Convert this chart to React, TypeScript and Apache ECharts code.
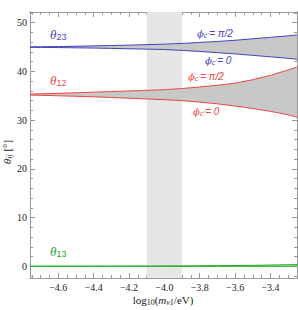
import React, { useEffect, useRef } from "react";
import * as echarts from "echarts";

const xs = [-4.76, -4.7, -4.6, -4.5, -4.4, -4.3, -4.2, -4.1, -4.0, -3.9, -3.8, -3.7, -3.6, -3.5, -3.4, -3.3, -3.25];
const t23Upper = [45.05, 45.07, 45.1, 45.17, 45.25, 45.32, 45.4, 45.5, 45.6, 45.75, 45.95, 46.15, 46.4, 46.7, 47.0, 47.3, 47.5];
const t23Lower = [44.95, 44.93, 44.9, 44.85, 44.8, 44.73, 44.65, 44.58, 44.5, 44.32, 44.1, 43.85, 43.6, 43.3, 43.0, 42.7, 42.5];
const t12Upper = [35.35, 35.4, 35.5, 35.62, 35.75, 35.87, 36.0, 36.12, 36.25, 36.5, 36.8, 37.15, 37.6, 38.3, 39.2, 40.3, 40.9];
const t12Lower = [35.15, 35.1, 35.0, 34.9, 34.8, 34.65, 34.5, 34.35, 34.2, 34.0, 33.7, 33.35, 32.9, 32.4, 31.8, 31.1, 30.6];
const t13Upper = [0.01, 0.01, 0.02, 0.02, 0.03, 0.03, 0.04, 0.05, 0.06, 0.08, 0.1, 0.13, 0.16, 0.2, 0.26, 0.32, 0.36];
const t13Lower = [0, 0, 0, 0, 0, 0, 0, 0, 0, 0, 0, 0, 0, 0, 0, 0, 0];

const bandRange = [-4.1, -3.9];
const xTicks = [-4.6, -4.4, -4.2, -4.0, -3.8, -3.6, -3.4];
const yTicks = [0, 10, 20, 30, 40, 50];
const xMin = -4.76;
const xMax = -3.25;
const yMin = -2.4;
const yMax = 52.2;

const BLUE = "#4343c2";
const RED = "#f04545";
const GREEN = "#22aa22";
const FRAME = "#9a9a9a";

const xMinor: number[] = [];
for (let k = -95; k <= -65; k++) {
  const v = Math.round(k * 5) / 100;
  if (!xTicks.some((t) => Math.abs(t - v) < 1e-9)) xMinor.push(v);
}
const yMinor: number[] = [];
for (let k = -1; k <= 26; k++) {
  const v = 2 * k;
  if (v % 10 !== 0) yMinor.push(v);
}

const fmtX = (v: number) => (v < 0 ? "\u2212" : "") + Math.abs(v).toFixed(1);

function mkAxis(dim: "x" | "y", position: string, values: number[], len: number, labels: boolean) {
  return {
    type: "value",
    position,
    min: dim === "x" ? xMin : yMin,
    max: dim === "x" ? xMax : yMax,
    axisLine: { show: true, onZero: false, lineStyle: { color: FRAME, width: 1 } },
    axisTick: { show: true, inside: true, length: len, customValues: values, lineStyle: { color: FRAME, width: 1 } },
    axisLabel: labels
      ? {
          show: true,
          customValues: values,
          formatter: dim === "x" ? fmtX : (v: number) => String(v),
          fontFamily: "Liberation Serif",
          fontSize: 10,
          color: "#222",
          margin: dim === "x" ? 4 : 3,
        }
      : { show: false },
    splitLine: { show: false },
    minorTick: { show: false },
  };
}

function bandSeries(lower: number[], upper: number[], color: string, fill: string) {
  return [
    {
      type: "custom",
      clip: true,
      silent: true,
      z: 2,
      data: [[xs[0], lower[0]]],
      renderItem: (_p: any, api: any) => {
        const up = xs.map((x, i) => api.coord([x, upper[i]]));
        const lo = xs.map((x, i) => api.coord([x, lower[i]]));
        return {
          type: "polygon",
          shape: { points: up.concat(lo.slice().reverse()) },
          style: { fill, stroke: "none" },
        };
      },
    },
    {
      type: "line",
      data: xs.map((x, i) => [x, lower[i]]),
      symbol: "none",
      silent: true,
      lineStyle: { color, width: 1 },
      z: 4,
    },
    {
      type: "line",
      data: xs.map((x, i) => [x, upper[i]]),
      symbol: "none",
      silent: true,
      lineStyle: { color, width: 1 },
      z: 4,
    },
  ];
}

const phiRich = (color: string) => ({
  p: { fontFamily: "DejaVu Serif", fontStyle: "italic", fontSize: 10, fill: color },
  s: { fontFamily: "DejaVu Sans", fontStyle: "italic", fontSize: 7, verticalAlign: "bottom", fill: color, padding: [5, 0, 0, 0] },
  e: { fontFamily: "Liberation Sans", fontStyle: "italic", fontSize: 10, fill: color },
});

const thetaRich = (color: string) => ({
  t: { fontFamily: "Liberation Serif", fontStyle: "italic", fontSize: 13, fill: color },
  s: { fontFamily: "Liberation Sans", fontSize: 9, verticalAlign: "bottom", fill: color, padding: [5, 0, 0, 0] },
});

export default function App() {
  const ref = useRef<HTMLDivElement>(null);
  useEffect(() => {
    if (!ref.current) return;
    const chart = echarts.init(ref.current, undefined, { renderer: "svg" });
    const option: any = {
      animation: false,
      backgroundColor: "#fff",
      grid: { left: 30, right: 1, top: 12, bottom: 32, outerBoundsMode: "none", containLabel: false },
      xAxis: [
        mkAxis("x", "bottom", xTicks, 5, true),
        mkAxis("x", "bottom", xMinor, 3, false),
        mkAxis("x", "top", xTicks, 5, false),
        mkAxis("x", "top", xMinor, 3, false),
      ],
      yAxis: [
        mkAxis("y", "left", yTicks, 5, true),
        mkAxis("y", "left", yMinor, 3, false),
        mkAxis("y", "right", yTicks, 5, false),
        mkAxis("y", "right", yMinor, 3, false),
      ],
      series: [
        {
          type: "line",
          data: [[xMin, -100]],
          symbol: "none",
          silent: true,
          lineStyle: { opacity: 0 },
          z: 0,
          markArea: {
            silent: true,
            itemStyle: { color: "#e6e6e6" },
            data: [[{ xAxis: bandRange[0] }, { xAxis: bandRange[1] }]],
          },
        },
        ...bandSeries(t23Lower, t23Upper, BLUE, "#c8c8c8"),
        ...bandSeries(t12Lower, t12Upper, RED, "#c8c8c8"),
        ...bandSeries(t13Lower, t13Upper, GREEN, "#b8e6b8"),
      ],
      graphic: [
        { type: "text", left: 50, top: 28, style: { text: "{t|θ}{s|23}", rich: thetaRich(BLUE) } },
        { type: "text", left: 50, top: 74, style: { text: "{t|θ}{s|12}", rich: thetaRich(RED) } },
        { type: "text", left: 50, top: 245, style: { text: "{t|θ}{s|13}", rich: thetaRich(GREEN) } },
        { type: "text", left: 197, top: 28, style: { text: "{p|ϕ}{s|c′}{e|= π/2}", rich: phiRich(BLUE) } },
        { type: "text", left: 205, top: 55, style: { text: "{p|ϕ}{s|c′}{e|= 0}", rich: phiRich(BLUE) } },
        { type: "text", left: 188, top: 71, style: { text: "{p|ϕ}{s|c′}{e|= π/2}", rich: phiRich(RED) } },
        { type: "text", left: 193, top: 106, style: { text: "{p|ϕ}{s|c′}{e|= 0}", rich: phiRich(RED) } },
        {
          type: "text",
          x: 7,
          y: 152,
          rotation: Math.PI / 2,
          style: {
            text: "{t|θ}{s|ij}{r| [°]}",
            align: "center",
            verticalAlign: "middle",
            rich: {
              t: { fontFamily: "Liberation Serif", fontStyle: "italic", fontSize: 11, fill: "#222" },
              s: { fontFamily: "Liberation Serif", fontStyle: "italic", fontSize: 8, verticalAlign: "bottom", padding: [4, 0, 0, 0], fill: "#222" },
              r: { fontFamily: "Liberation Serif", fontSize: 11, fill: "#222" },
            },
          },
        },
        {
          type: "text",
          x: 163,
          y: 300,
          style: {
            text: "{r|log}{s|10}{r|(}{i|m}{si|ν1}{r|/eV)}",
            align: "center",
            verticalAlign: "middle",
            rich: {
              r: { fontFamily: "Liberation Serif", fontSize: 11, fill: "#222" },
              i: { fontFamily: "Liberation Serif", fontStyle: "italic", fontSize: 11, fill: "#222" },
              s: { fontFamily: "Liberation Serif", fontSize: 8, verticalAlign: "bottom", padding: [4, 0, 0, 0], fill: "#222" },
              si: { fontFamily: "Liberation Serif", fontStyle: "italic", fontSize: 8, verticalAlign: "bottom", padding: [4, 0, 0, 0], fill: "#222" },
            },
          },
        },
      ],
    };
    chart.setOption(option);
    return () => chart.dispose();
  }, []);
  return <div ref={ref} style={{ position: "fixed", left: 0, top: 0, width: 298, height: 310 }} />;
}
